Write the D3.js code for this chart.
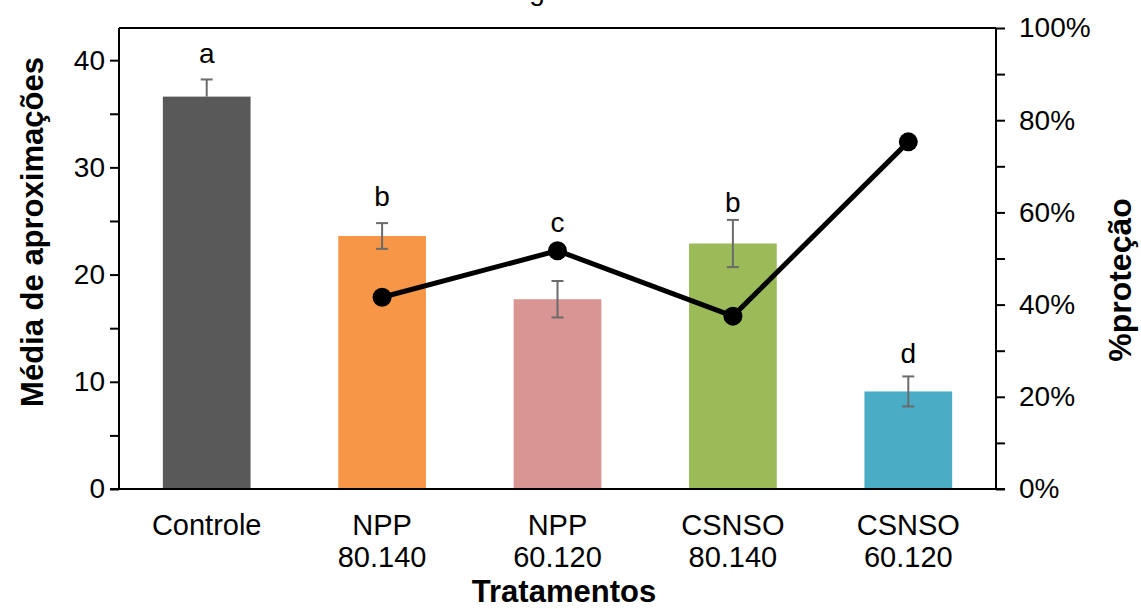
<!DOCTYPE html>
<html><head><meta charset="utf-8">
<script src="https://cdn.jsdelivr.net/npm/d3@7"></script>
<style>
html,body{margin:0;padding:0;background:#fff;}
text{font-family:"Liberation Sans",Arial,sans-serif;fill:#000;}
</style></head>
<body>
<svg id="c" width="1141" height="609"></svg>
<script>
const categories = [["Controle"],["NPP","80.140"],["NPP","60.120"],["CSNSO","80.140"],["CSNSO","60.120"]];
const means = [36.6, 23.6, 17.7, 22.9, 9.1];
const errUp = [1.6, 1.2, 1.7, 2.2, 1.4];
const errDown = [0, 1.2, 1.7, 2.2, 1.4];
const letters = ["a","b","c","b","d"];
const letterPos = [39.7, 26.4, 24.0, 25.8, 11.75];
const protection = [null, 0.416, 0.517, 0.375, 0.753];
const leftTicks = [0,10,20,30,40];
const rightTicks = [0,0.2,0.4,0.6,0.8,1.0];
const colors = ["#595959","#F79646","#D99594","#9BBB59","#4BACC6"];

const svg = d3.select("#c");
const L=119, R=996, T=28, B=489;
const keys = categories.map(c=>c.join(" "));
const x = d3.scaleBand().domain(keys).range([L,R]).paddingInner(0.5).paddingOuter(0.25);
const y = d3.scaleLinear().domain([0,43]).range([B,T]);
const y2 = d3.scaleLinear().domain([0,1]).range([B,T]);
const cx = i => x(keys[i])+x.bandwidth()/2;

// cut-off title fragment
svg.append("text").attr("x",537).attr("y",0).attr("text-anchor","middle").style("font-size","28px").text("g");

// bars
svg.selectAll("rect.bar").data(means).join("rect")
  .attr("x",(d,i)=>x(keys[i])).attr("width",x.bandwidth())
  .attr("y",d=>y(d)).attr("height",d=>B-y(d)).attr("fill",(d,i)=>colors[i]);

// error bars
const eg = svg.append("g").attr("stroke","#6b6b6b").attr("stroke-width",2).attr("fill","none");
means.forEach((m,i)=>{
  const c = cx(i);
  eg.append("line").attr("x1",c).attr("x2",c).attr("y1",y(m+errUp[i])).attr("y2",y(m-errDown[i]));
  eg.append("line").attr("x1",c-6).attr("x2",c+6).attr("y1",y(m+errUp[i])).attr("y2",y(m+errUp[i]));
  if(errDown[i]>0) eg.append("line").attr("x1",c-6).attr("x2",c+6).attr("y1",y(m-errDown[i])).attr("y2",y(m-errDown[i]));
});

// letters
svg.selectAll("text.let").data(letters).join("text")
  .attr("x",(d,i)=>cx(i)).attr("y",(d,i)=>y(letterPos[i]))
  .attr("text-anchor","middle").style("font-size","28px").text(d=>d);

// line
const pts = protection.map((p,i)=>({p,i})).filter(d=>d.p!==null);
svg.append("path").datum(pts)
  .attr("d",d3.line().x(d=>cx(d.i)).y(d=>y2(d.p)))
  .attr("fill","none").attr("stroke","#000").attr("stroke-width",5).attr("stroke-linejoin","round");
svg.selectAll("circle.m").data(pts).join("circle")
  .attr("cx",d=>cx(d.i)).attr("cy",d=>y2(d.p)).attr("r",9.5).attr("fill","#000");

// frame top
svg.append("line").attr("x1",L).attr("x2",R).attr("y1",T).attr("y2",T).attr("stroke","#000").attr("stroke-width",2);

// left axis
const la = svg.append("g").attr("transform",`translate(${L},0)`)
  .call(d3.axisLeft(y).tickValues(d3.range(0,41,5)).tickSize(9).tickSizeOuter(0).tickFormat(d=>leftTicks.includes(d)?d:""));
la.select(".domain").attr("stroke-width",2).attr("d",`M0,${T}V${B}`);
la.selectAll(".tick line").attr("stroke-width",2);
la.selectAll(".tick text").style("font-size","28px").attr("x",-14).attr("font-family",null);

// right axis
const ra = svg.append("g").attr("transform",`translate(${R},0)`)
  .call(d3.axisRight(y2).tickValues(d3.range(0,11).map(d=>d/10)).tickSize(9).tickSizeOuter(0)
   .tickFormat(d=>rightTicks.some(t=>Math.abs(t-d)<1e-9)?Math.round(d*100)+"%":""));
ra.select(".domain").attr("stroke-width",2).attr("d",`M0,${T}V${B}`);
ra.selectAll(".tick line").attr("stroke-width",2);
ra.selectAll(".tick text").style("font-size","28px").attr("x",23).attr("font-family",null);

// bottom axis
const ba = svg.append("g").attr("transform",`translate(0,${B})`)
  .call(d3.axisBottom(x).tickSize(0).tickFormat(""));
ba.select(".domain").attr("stroke-width",2).attr("d",`M${L-9},0H${R+9}`);
categories.forEach((c,i)=>{
  const t = svg.append("text").attr("x",cx(i)).attr("y",535)
    .attr("text-anchor","middle").style("font-size","29px");
  c.forEach((s,j)=>t.append("tspan").attr("x",cx(i)).attr("dy",j?32:0).text(s));
});

// axis titles
svg.append("text").attr("x",564).attr("y",602).attr("text-anchor","middle")
  .style("font-size","31px").style("font-weight","bold").text("Tratamentos");
svg.append("text").attr("transform","translate(43,232) rotate(-90)").attr("text-anchor","middle")
  .style("font-size","31px").style("font-weight","bold").text("Média de aproximações");
svg.append("text").attr("transform","translate(1131,280) rotate(-90)").attr("text-anchor","middle")
  .style("font-size","32px").style("font-weight","bold").text("%proteção");
</script>
</body></html>
